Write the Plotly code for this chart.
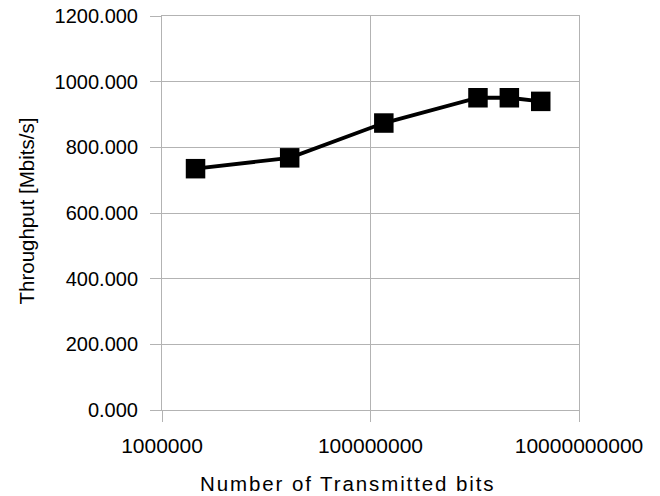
import plotly.graph_objects as go

# Data
transmitted_bits = [2**21, 2**24, 2**27, 2**30, 2**31, 2**32]
throughput_mbits = [735.0, 768.0, 874.0, 951.0, 951.0, 940.0]

x_tick_vals = [1e6, 1e8, 1e10]
x_tick_text = ["1000000", "100000000", "10000000000"]
y_tick_vals = [0, 200, 400, 600, 800, 1000, 1200]

x_title = "Number of Transmitted bits"
y_title = "Throughput [Mbits/s]"

grid = "#b3b3b3"
font_family = "Liberation Sans, Arial, sans-serif"

fig = go.Figure()
fig.add_trace(go.Scatter(
    x=transmitted_bits,
    y=throughput_mbits,
    mode="lines+markers",
    line=dict(color="black", width=3.8),
    marker=dict(symbol="square", size=19.5, color="black"),
    showlegend=False,
))

fig.update_layout(
    width=660,
    height=496,
    margin=dict(l=162, r=81, t=16, b=86),
    paper_bgcolor="white",
    plot_bgcolor="white",
    font=dict(family=font_family, size=20, color="black"),
)

fig.update_xaxes(
    type="log",
    range=[6, 10],
    tickmode="array",
    tickvals=x_tick_vals,
    ticktext=x_tick_text,
    tickfont=dict(size=21),
    showgrid=True,
    gridcolor=grid,
    gridwidth=1,
    showline=True,
    linecolor=grid,
    linewidth=1,
    mirror=True,
    ticks="outside",
    ticklen=11,
    tickcolor=grid,
    ticklabelstandoff=6,
    zeroline=False,
    automargin=False,
)

fig.update_yaxes(
    range=[0, 1200],
    tickmode="array",
    tickvals=y_tick_vals,
    tickformat=".3f",
    tickfont=dict(size=20),
    showgrid=True,
    gridcolor=grid,
    gridwidth=1,
    showline=True,
    linecolor=grid,
    linewidth=1,
    mirror=True,
    ticks="outside",
    ticklen=11,
    tickcolor=grid,
    ticklabelstandoff=8,
    zeroline=False,
    automargin=False,
)

fig.add_annotation(
    text="<span style='letter-spacing:1.9px'>" + x_title + "</span>",
    xref="paper", yref="paper",
    x=(348 - 162) / 417, y=(410 - 483) / 394,
    xanchor="center", yanchor="middle",
    showarrow=False,
    font=dict(size=20.5, color="black"),
)

fig.add_annotation(
    text=y_title,
    xref="paper", yref="paper",
    x=(26 - 162) / 417, y=0.5 + 1.5 / 394,
    xanchor="center", yanchor="middle",
    textangle=-90,
    showarrow=False,
    font=dict(size=20.5, color="black"),
)

fig.write_html(
    "out.html",
    config={"displayModeBar": False},
    post_script="document.body.style.margin='0';document.body.style.overflow='hidden';",
)
